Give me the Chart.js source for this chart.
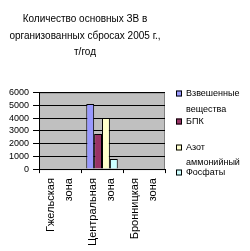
<!DOCTYPE html>
<html>
<head>
<meta charset="UTF-8">
<title>ЗВ 2005</title>
<script src="https://cdn.jsdelivr.net/npm/chart.js"></script>
<style>
  html, body { margin: 0; padding: 0; background: #fff; }
  #wrap { width: 250px; height: 251px; }
</style>
</head>
<body>
<div id="wrap"><canvas id="zvChart" width="250" height="251"></canvas></div>
<script>
    // данные
    var zones = [['Гжельская', 'зона'], ['Центральная', 'зона'], ['Бронницкая', 'зона']];
    var vzveshennye = [null, 5100, null];
    var bpk = [null, 2750, null];
    var azot = [null, 4000, null];
    var fosfaty = [null, 800, null];
    var seriesNames = [['Взвешенные', 'вещества'], ['БПК'], ['Азот', 'аммонийный'], ['Фосфаты']];
    var seriesColors = ['#9999ff', '#993366', '#ffffcc', '#ccffff'];
    var yTicks = [0, 1000, 2000, 3000, 4000, 5000, 6000];

    var font = 'Liberation Sans, Arial, sans-serif';

    // серый фон области графика
    var plotBg = {
        id: 'plotBg',
        beforeDraw: function (chart) {
            var a = chart.chartArea, c = chart.ctx;
            c.save();
            c.fillStyle = '#c0c0c0';
            c.fillRect(a.left, a.top, a.right - a.left, a.bottom - a.top);
            c.strokeStyle = '#808080';
            c.lineWidth = 1;
            c.strokeRect(a.left + 0.5, a.top + 0.5, a.right - a.left - 1, a.bottom - a.top);
            c.restore();
        }
    };

    // легенда справа, как в Excel
    var sideLegend = {
        id: 'sideLegend',
        afterDraw: function (chart) {
            var c = chart.ctx;
            var x = chart.chartArea.right + 11;
            var top = chart.chartArea.top;
            var rows = [1, 29, 55, 80];
            var gaps = [16, 0, 15, 0];
            c.save();
            c.font = '9px ' + font;
            c.textBaseline = 'middle';
            seriesNames.forEach(function (lines, i) {
                var y = top + rows[i];
                c.fillStyle = seriesColors[i];
                c.fillRect(x, y - 3, 6, 6);
                c.strokeStyle = '#000';
                c.strokeRect(x + 0.5, y - 2.5, 5, 5);
                c.fillStyle = '#000';
                lines.forEach(function (t, k) {
                    c.fillText(t, x + 10, y + k * gaps[i]);
                });
            });
            c.restore();
        }
    };

    var ctx = document.getElementById('zvChart').getContext('2d');
    var datasets = [vzveshennye, bpk, azot, fosfaty].map(function (d, i) {
        return {
            label: seriesNames[i].join(' '),
            data: d,
            backgroundColor: seriesColors[i],
            borderColor: '#000',
            borderWidth: 1,
            categoryPercentage: 0.75,
            barPercentage: 1.0
        };
    });

    new Chart(ctx, {
        type: 'bar',
        data: { labels: zones, datasets: datasets },
        options: {
            responsive: false,
            animation: false,
            layout: { padding: { left: 5, right: 85, top: 4, bottom: 0 } },
            plugins: {
                legend: { display: false },
                tooltip: { enabled: false },
                title: {
                    display: true,
                    text: ['Количество основных ЗВ в', 'организованных сбросах 2005 г.,', 'т/год'],
                    color: '#000',
                    font: { family: font, size: 10, weight: 'normal', lineHeight: 1.65 },
                    padding: { top: 7, bottom: 32 },
                    align: 'center',
                    fullSize: true
                }
            },
            scales: {
                x: {
                    grid: { display: true, drawOnChartArea: false, offset: true, color: '#000', tickLength: 4 },
                    border: { color: '#000' },
                    ticks: {
                        color: '#000',
                        autoSkip: false,
                        maxRotation: 90,
                        minRotation: 90,
                        padding: 5,
                        labelOffset: -9,
                        font: { family: font, size: 11, lineHeight: 1.64 }
                    }
                },
                y: {
                    min: 0,
                    max: 6000,
                    afterBuildTicks: function (axis) {
                        axis.ticks = yTicks.map(function (v) { return { value: v }; });
                    },
                    grid: { color: '#000', tickLength: 6 },
                    border: { color: '#000' },
                    ticks: {
                        color: '#000',
                        autoSkip: false,
                        padding: 4,
                        font: { family: font, size: 9 },
                        callback: function (v) { return String(v); }
                    }
                }
            }
        },
        plugins: [plotBg, sideLegend]
    });
</script>
</body>
</html>
